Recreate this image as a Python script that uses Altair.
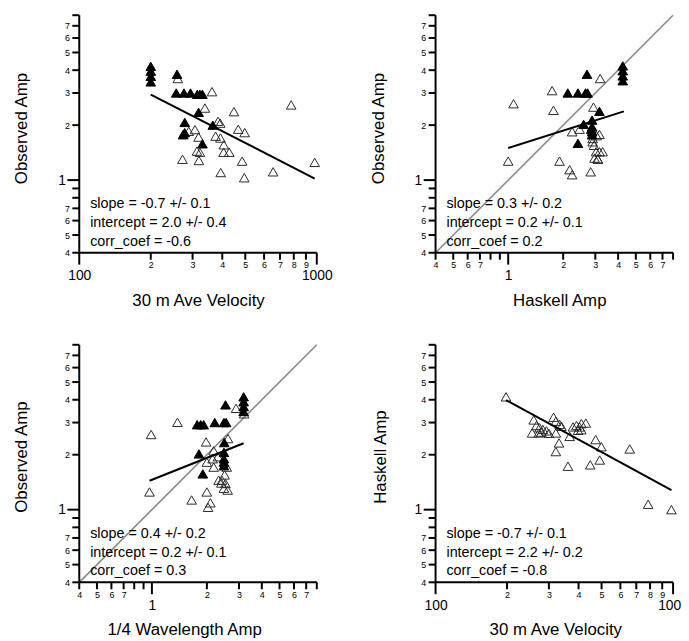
import altair as alt
import pandas as pd

# ---------------- data ----------------
# Panel 1: Observed Amp vs 30 m Ave Velocity
P1_FILL_VEL = [200, 200, 200, 200, 258, 256, 276, 294, 314, 322, 330, 318, 278, 278, 274, 365, 330]
P1_FILL_AMP = [4.2, 3.95, 3.7, 3.45, 3.8, 3.0, 3.0, 3.0, 2.95, 2.95, 2.95, 2.35, 2.07, 1.82, 1.78, 2.0, 1.58]
P1_OPEN_VEL = [260, 362, 338, 448, 384, 392, 467, 497, 289, 307, 274, 318, 375, 393, 406, 313, 322,
               405, 428, 272, 319, 485, 980, 394, 495, 655, 780]
P1_OPEN_AMP = [3.6, 3.05, 2.48, 2.37, 2.1, 2.05, 1.9, 1.82, 1.85, 1.89, 1.77, 1.72, 1.74, 1.7, 1.56, 1.44, 1.42,
               1.42, 1.42, 1.30, 1.28, 1.27, 1.25, 1.10, 1.03, 1.11, 2.58]
P1_FIT_X = [200, 980]
P1_FIT_Y = [2.94, 1.02]
P1_TEXT = ["slope = -0.7 +/- 0.1", "intercept = 2.0 +/- 0.4", "corr_coef = -0.6"]

# Panel 2: Observed Amp vs Haskell Amp
P2_FILL_X = [4.24, 4.24, 4.24, 4.24, 2.70, 2.12, 2.41, 2.65, 2.72, 3.16, 2.59, 2.88, 2.88, 2.88, 2.88, 2.41, 2.85]
P2_FILL_Y = [4.22, 3.97, 3.72, 3.5, 3.8, 3.0, 3.0, 3.0, 3.0, 2.38, 2.02, 2.13, 1.96, 1.84, 1.77, 1.59, 1.90]
P2_OPEN_X = [3.19, 1.74, 1.07, 1.77, 2.93, 2.24, 2.46, 3.16, 2.9, 2.9, 3.03, 3.16, 3.29, 2.97, 3.09, 1.0,
             1.91, 2.17, 2.24, 2.83, 3.05, 2.95, 3.1]
P2_OPEN_Y = [3.6, 3.09, 2.62, 2.41, 2.51, 1.84, 1.90, 1.78, 1.69, 1.62, 1.43, 1.43, 1.43, 1.32, 1.31, 1.27,
             1.27, 1.14, 1.07, 1.11, 1.75, 1.55, 1.30]
P2_FIT_X = [1.0, 4.3]
P2_FIT_Y = [1.50, 2.38]
P2_TEXT = ["slope = 0.3 +/- 0.2", "intercept = 0.2 +/- 0.1", "corr_coef = 0.2"]

# Panel 3: Observed Amp vs 1/4 Wavelength Amp
P3_FILL_X = [3.18, 3.18, 3.18, 3.18, 2.53, 1.77, 1.85, 1.92, 2.21, 2.48, 2.55, 2.49, 1.81, 2.48, 2.48, 2.48, 2.48, 1.90]
P3_FILL_Y = [4.15, 3.9, 3.67, 3.45, 3.75, 2.92, 2.92, 2.92, 3.0, 3.0, 3.0, 2.33, 2.02, 2.06, 1.90, 1.82, 1.74, 1.57]
P3_OPEN_X = [3.2, 2.89, 1.38, 0.99, 1.98, 2.61, 2.18, 2.0, 2.18, 2.57, 2.32, 2.42, 2.53, 2.48, 2.6, 0.97,
             2.0, 1.65, 2.09, 2.03, 2.3, 2.15, 2.5, 2.4]
P3_OPEN_Y = [3.35, 3.59, 3.01, 2.58, 2.35, 2.45, 2.10, 1.82, 1.71, 1.71, 1.45, 1.45, 1.39, 1.31, 1.28, 1.25,
             1.25, 1.13, 1.09, 1.03, 1.95, 1.9, 1.55, 1.4]
P3_FIT_X = [0.97, 3.18]
P3_FIT_Y = [1.44, 2.31]
P3_TEXT = ["slope = 0.4 +/- 0.2", "intercept = 0.2 +/- 0.1", "corr_coef = 0.3"]

# Panel 4: Haskell Amp vs 30 m Ave Velocity
P4_OPEN_VEL = [198, 259, 266, 255, 274, 279, 272, 293, 314, 321, 333, 339, 321, 331, 321, 367, 361, 379,
               392, 404, 411, 429, 398, 411, 472, 499, 491, 448, 657, 785, 984, 283, 300]
P4_OPEN_AMP = [4.15, 3.1, 2.89, 2.63, 2.81, 2.66, 2.63, 2.70, 3.21, 3.05, 2.93, 2.86, 2.63, 2.32, 2.08, 2.52,
               1.73, 2.84, 2.89, 2.84, 2.96, 2.98, 2.72, 2.74, 2.42, 2.21, 1.87, 1.76, 2.15, 1.07, 1.0, 2.75, 2.62]
P4_FIT_X = [198, 984]
P4_FIT_Y = [3.98, 1.28]
P4_TEXT = ["slope = -0.7 +/- 0.1", "intercept = 2.2 +/- 0.2", "corr_coef = -0.8"]

ONE_TO_ONE = [0.4, 8]
AMP_DOMAIN = [0.4, 8]
VEL_DOMAIN = [100, 1000]
AMP_TICKS = [0.4, 0.5, 0.6, 0.7, 0.8, 0.9, 1, 2, 3, 4, 5, 6, 7, 8]
AMP_LABELED = [0.4, 0.5, 0.6, 0.7, 1, 2, 3, 4, 5, 6, 7]
AMP_MAJOR = [1]
VEL_TICKS = [100, 200, 300, 400, 500, 600, 700, 800, 900, 1000]
VEL_MAJOR = [100, 1000]

# ---------------- styling ----------------
FONT = "Liberation Sans"
W = H = 240
TICK = 7
TICK_MAJOR = 12
AMP_SCALE = alt.Scale(type="log", domain=AMP_DOMAIN, nice=False)
VEL_SCALE = alt.Scale(type="log", domain=VEL_DOMAIN, nice=False)
AMP_PX_PER_DECADE = H / 1.30103   # 240 px span 0.4..8
VEL_PX_PER_DECADE = W / 1.0       # 240 px span 100..1000

AMP_EXPR = ("datum.value < 0.75 ? format(datum.value * 10, '.0f') : "
            "(datum.value == 1 ? '1' : format(datum.value, '.0f'))")
VEL_EXPR = ("datum.value == 100 || datum.value == 1000 ? format(datum.value, '.0f') : "
            "format(datum.value / 100, '.0f')")
AMP_BIG = "datum.value == 1"
VEL_BIG = "datum.value == 100 || datum.value == 1000"


def cond(test, big, small):
    return {"condition": {"test": test, "value": big}, "value": small}


def make_axis(kind, orient, title, tx, ty):
    big = AMP_BIG if kind == "amp" else VEL_BIG
    vals = AMP_LABELED if kind == "amp" else VEL_TICKS
    expr = AMP_EXPR if kind == "amp" else VEL_EXPR
    common = dict(
        values=vals, labelExpr=expr, grid=False, labelFlush=False, labelOverlap=False,
        labelFont=FONT, labelColor="black", labelFontSize=cond(big, 14, 9),
        ticks=False, domain=False,
        title=title, titleFont=FONT, titleFontSize=17, titleFontWeight="normal", titleColor="black",
        titleX=tx, titleY=ty, titleAlign="center", titleBaseline="middle",
    )
    if orient == "left":
        return alt.Axis(labelPadding=cond(big, 14, 10), titleAngle=270, **common)
    return alt.Axis(labelPadding=cond(big, 16, 8), titleAngle=0, **common)


def frame_segments(xkind):
    """Axis lines and tick marks as short line segments in data units of the panel's scales."""
    xdom = AMP_DOMAIN if xkind == "amp" else VEL_DOMAIN
    xticks = AMP_TICKS if xkind == "amp" else VEL_TICKS
    xmajor = AMP_MAJOR if xkind == "amp" else VEL_MAJOR
    xppd = AMP_PX_PER_DECADE if xkind == "amp" else VEL_PX_PER_DECADE
    ymin, ymax = AMP_DOMAIN
    xmin, xmax = xdom
    rows = []

    def seg(x0, y0, x1, y1):
        g = len(rows) // 2
        rows.append({"x": x0, "y": y0, "g": g, "o": 0})
        rows.append({"x": x1, "y": y1, "g": g, "o": 1})

    seg(xmin, ymin, xmax, ymin)
    seg(xmin, ymin, xmin, ymax)
    for v in xticks:
        length = TICK_MAJOR if v in xmajor else TICK
        seg(v, ymin, v, ymin * 10 ** (-length / AMP_PX_PER_DECADE))
    for v in AMP_TICKS:
        length = TICK_MAJOR if v in AMP_MAJOR else TICK
        seg(xmin, v, xmin * 10 ** (-length / xppd), v)
    return pd.DataFrame(rows)


def panel(xs_open, ys_open, xs_fill, ys_fill, fit_x, fit_y, text, xkind, xtitle, ytitle,
          xtx, ytx, yty, diag):
    xscale = AMP_SCALE if xkind == "amp" else VEL_SCALE
    xax = make_axis(xkind, "bottom", xtitle, xtx, 48)
    yax = make_axis("amp", "left", ytitle, ytx, yty)
    X = alt.X("x:Q", scale=xscale, axis=xax)
    Y = alt.Y("y:Q", scale=AMP_SCALE, axis=yax)
    layers = []
    if diag:
        d = pd.DataFrame({"x": ONE_TO_ONE, "y": ONE_TO_ONE})
        layers.append(alt.Chart(d).mark_line(color="#8a8a8a", strokeWidth=1.6).encode(x=X, y=Y))
    o = pd.DataFrame({"x": xs_open, "y": ys_open})
    layers.append(alt.Chart(o).mark_point(shape="triangle-up", filled=False, size=95, stroke="#2a2a2a",
                                          strokeWidth=1, opacity=1).encode(x=X, y=Y))
    if xs_fill:
        f = pd.DataFrame({"x": xs_fill, "y": ys_fill})
        layers.append(alt.Chart(f).mark_point(shape="triangle-up", filled=True, size=95, color="black",
                                              stroke="black", strokeWidth=1, opacity=1).encode(x=X, y=Y))
    fl = pd.DataFrame({"x": fit_x, "y": fit_y})
    layers.append(alt.Chart(fl).mark_line(color="black", strokeWidth=2).encode(x=X, y=Y))

    fr = frame_segments(xkind)
    layers.append(alt.Chart(fr).mark_line(color="black", strokeWidth=2, strokeCap="butt").encode(
        x=X, y=Y, detail="g:N", order="o:Q"))

    one = pd.DataFrame({"k": [0]})
    layers.append(alt.Chart(one).mark_text(text=text, align="left", baseline="middle", font=FONT,
                                           fontSize=14.5, lineHeight=19, color="black")
                  .encode(x=alt.value(11), y=alt.value(191)))
    return alt.layer(*layers).properties(width=W, height=H)


p1 = panel(P1_OPEN_VEL, P1_OPEN_AMP, P1_FILL_VEL, P1_FILL_AMP, P1_FIT_X, P1_FIT_Y, P1_TEXT,
           "vel", "30 m Ave Velocity", "Observed Amp", 120, -58, 114, False)
p2 = panel(P2_OPEN_X, P2_OPEN_Y, P2_FILL_X, P2_FILL_Y, P2_FIT_X, P2_FIT_Y, P2_TEXT,
           "amp", "Haskell Amp", "Observed Amp", 125, -58, 114, True)
p3 = panel(P3_OPEN_X, P3_OPEN_Y, P3_FILL_X, P3_FILL_Y, P3_FIT_X, P3_FIT_Y, P3_TEXT,
           "amp", "1/4 Wavelength Amp", "Observed Amp", 106, -58, 113, True)
p4 = panel(P4_OPEN_VEL, P4_OPEN_AMP, [], [], P4_FIT_X, P4_FIT_Y, P4_TEXT,
           "vel", "30 m Ave Velocity", "Haskell Amp", 121, -56, 113, False)

chart = alt.concat(p1, p2, p3, p4, columns=2, spacing={"row": 93, "column": 120}, bounds="flush").properties(
    padding={"left": 5, "top": 0, "right": -8, "bottom": 0}, background="white"
).configure_view(stroke=None)

chart.save("out.html", embed_options={"renderer": "svg", "actions": False})
